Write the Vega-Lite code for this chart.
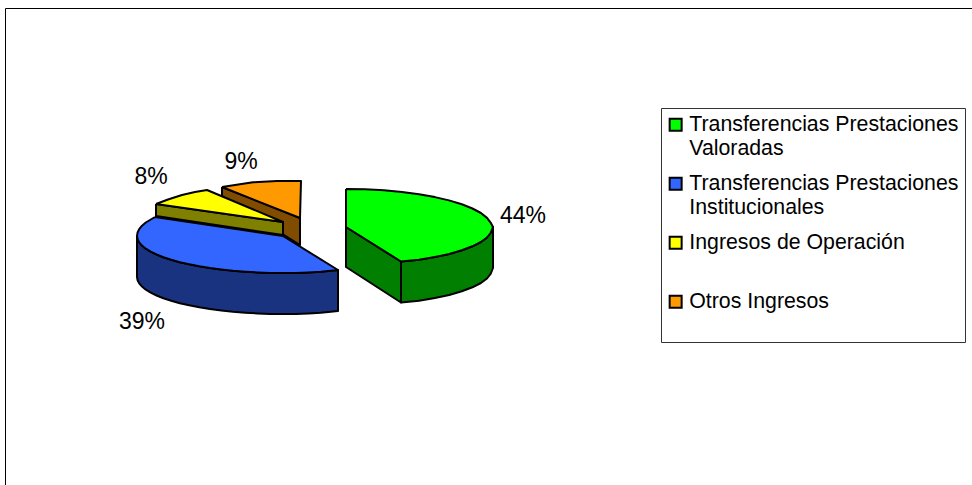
{
  "$schema": "https://vega.github.io/schema/vega-lite/v6.json",
  "width": 967,
  "height": 477,
  "padding": {"left": 5, "top": 8, "right": 0, "bottom": 0},
  "autosize": "none",
  "background": "white",
  "config": {"view": {"stroke": null}, "font": "Liberation Sans", "style": {"guide-label": {"lineHeight": 24}}},
  "layer": [
    {
      "data": {"name": "caras", "values": [
        {"serie":"Otros lateral","pieza":"o1","i":0,"x":217,"y":298},{"serie":"Otros lateral","pieza":"o1","i":1,"x":217,"y":289},{"serie":"Otros lateral","pieza":"o1","i":2,"x":295,"y":240},{"serie":"Otros lateral","pieza":"o1","i":3,"x":295,"y":267},{"serie":"Otros lateral","pieza":"o1","i":4,"x":217,"y":298},
        {"serie":"Otros Ingresos","pieza":"o2","i":0,"x":217,"y":298},{"serie":"Otros Ingresos","pieza":"o2","i":1,"x":248,"y":302.7},{"serie":"Otros Ingresos","pieza":"o2","i":2,"x":272,"y":304},{"serie":"Otros Ingresos","pieza":"o2","i":3,"x":296,"y":304},{"serie":"Otros Ingresos","pieza":"o2","i":4,"x":295,"y":267},{"serie":"Otros Ingresos","pieza":"o2","i":5,"x":217,"y":298},
        {"serie":"Operación lateral","pieza":"y1","i":0,"x":151,"y":281},{"serie":"Operación lateral","pieza":"y1","i":1,"x":151,"y":269},{"serie":"Operación lateral","pieza":"y1","i":2,"x":278,"y":250},{"serie":"Operación lateral","pieza":"y1","i":3,"x":278,"y":263},{"serie":"Operación lateral","pieza":"y1","i":4,"x":151,"y":281},
        {"serie":"Ingresos de Operación","pieza":"y2","i":0,"x":151,"y":281},{"serie":"Ingresos de Operación","pieza":"y2","i":1,"x":163,"y":285.5},{"serie":"Ingresos de Operación","pieza":"y2","i":2,"x":177,"y":290},{"serie":"Ingresos de Operación","pieza":"y2","i":3,"x":190,"y":293},{"serie":"Ingresos de Operación","pieza":"y2","i":4,"x":202,"y":295},{"serie":"Ingresos de Operación","pieza":"y2","i":5,"x":278,"y":263},{"serie":"Ingresos de Operación","pieza":"y2","i":6,"x":151,"y":281},
        {"serie":"Institucionales lateral","pieza":"b1","i":0,"x":132,"y":249},{"serie":"Institucionales lateral","pieza":"b1","i":0.5,"x":132.6,"y":245.8},{"serie":"Institucionales lateral","pieza":"b1","i":1,"x":134.2,"y":242.6},{"serie":"Institucionales lateral","pieza":"b1","i":1.5,"x":137,"y":239.4},{"serie":"Institucionales lateral","pieza":"b1","i":2,"x":140.8,"y":236.3},{"serie":"Institucionales lateral","pieza":"b1","i":2.5,"x":145.7,"y":233.4},{"serie":"Institucionales lateral","pieza":"b1","i":3,"x":151.6,"y":230.5},{"serie":"Institucionales lateral","pieza":"b1","i":3.5,"x":158.4,"y":227.8},{"serie":"Institucionales lateral","pieza":"b1","i":4,"x":166.2,"y":225.2},{"serie":"Institucionales lateral","pieza":"b1","i":4.5,"x":174.8,"y":222.8},{"serie":"Institucionales lateral","pieza":"b1","i":5,"x":184.2,"y":220.7},{"serie":"Institucionales lateral","pieza":"b1","i":5.5,"x":194.3,"y":218.7},{"serie":"Institucionales lateral","pieza":"b1","i":6,"x":205,"y":217},{"serie":"Institucionales lateral","pieza":"b1","i":6.5,"x":216.3,"y":215.5},{"serie":"Institucionales lateral","pieza":"b1","i":7,"x":228,"y":214.2},{"serie":"Institucionales lateral","pieza":"b1","i":7.5,"x":240.2,"y":213.3},{"serie":"Institucionales lateral","pieza":"b1","i":8,"x":252.6,"y":212.6},{"serie":"Institucionales lateral","pieza":"b1","i":8.5,"x":265.3,"y":212.1},{"serie":"Institucionales lateral","pieza":"b1","i":9,"x":278,"y":212},{"serie":"Institucionales lateral","pieza":"b1","i":9.5,"x":290.7,"y":212.1},{"serie":"Institucionales lateral","pieza":"b1","i":10,"x":303.4,"y":212.6},{"serie":"Institucionales lateral","pieza":"b1","i":10.5,"x":315.8,"y":213.3},{"serie":"Institucionales lateral","pieza":"b1","i":11,"x":333,"y":215},{"serie":"Institucionales lateral","pieza":"b1","i":12,"x":333,"y":174},{"serie":"Institucionales lateral","pieza":"b1","i":12.5,"x":315.8,"y":172.3},{"serie":"Institucionales lateral","pieza":"b1","i":13,"x":303.4,"y":171.6},{"serie":"Institucionales lateral","pieza":"b1","i":13.5,"x":290.7,"y":171.1},{"serie":"Institucionales lateral","pieza":"b1","i":14,"x":278,"y":171},{"serie":"Institucionales lateral","pieza":"b1","i":14.5,"x":265.3,"y":171.1},{"serie":"Institucionales lateral","pieza":"b1","i":15,"x":252.6,"y":171.6},{"serie":"Institucionales lateral","pieza":"b1","i":15.5,"x":240.2,"y":172.3},{"serie":"Institucionales lateral","pieza":"b1","i":16,"x":228,"y":173.2},{"serie":"Institucionales lateral","pieza":"b1","i":16.5,"x":216.3,"y":174.5},{"serie":"Institucionales lateral","pieza":"b1","i":17,"x":205,"y":176},{"serie":"Institucionales lateral","pieza":"b1","i":17.5,"x":194.3,"y":177.7},{"serie":"Institucionales lateral","pieza":"b1","i":18,"x":184.2,"y":179.7},{"serie":"Institucionales lateral","pieza":"b1","i":18.5,"x":174.8,"y":181.8},{"serie":"Institucionales lateral","pieza":"b1","i":19,"x":166.2,"y":184.2},{"serie":"Institucionales lateral","pieza":"b1","i":19.5,"x":158.4,"y":186.8},{"serie":"Institucionales lateral","pieza":"b1","i":20,"x":151.6,"y":189.5},{"serie":"Institucionales lateral","pieza":"b1","i":20.5,"x":145.7,"y":192.4},{"serie":"Institucionales lateral","pieza":"b1","i":21,"x":140.8,"y":195.3},{"serie":"Institucionales lateral","pieza":"b1","i":21.5,"x":137,"y":198.4},{"serie":"Institucionales lateral","pieza":"b1","i":22,"x":134.2,"y":201.6},{"serie":"Institucionales lateral","pieza":"b1","i":22.5,"x":132.6,"y":204.8},{"serie":"Institucionales lateral","pieza":"b1","i":23,"x":132,"y":208},{"serie":"Institucionales lateral","pieza":"b1","i":24,"x":132,"y":249},
        {"serie":"Transferencias Prestaciones Institucionales","pieza":"b2","i":0,"x":150,"y":268},{"serie":"Transferencias Prestaciones Institucionales","pieza":"b2","i":1,"x":140.8,"y":262.5},{"serie":"Transferencias Prestaciones Institucionales","pieza":"b2","i":1.5,"x":137,"y":259.3},{"serie":"Transferencias Prestaciones Institucionales","pieza":"b2","i":2,"x":134.2,"y":255.9},{"serie":"Transferencias Prestaciones Institucionales","pieza":"b2","i":2.5,"x":132.6,"y":252.5},{"serie":"Transferencias Prestaciones Institucionales","pieza":"b2","i":3,"x":132,"y":249},{"serie":"Transferencias Prestaciones Institucionales","pieza":"b2","i":3.5,"x":132.6,"y":245.8},{"serie":"Transferencias Prestaciones Institucionales","pieza":"b2","i":4,"x":134.2,"y":242.6},{"serie":"Transferencias Prestaciones Institucionales","pieza":"b2","i":4.5,"x":137,"y":239.4},{"serie":"Transferencias Prestaciones Institucionales","pieza":"b2","i":5,"x":140.8,"y":236.3},{"serie":"Transferencias Prestaciones Institucionales","pieza":"b2","i":5.5,"x":145.7,"y":233.4},{"serie":"Transferencias Prestaciones Institucionales","pieza":"b2","i":6,"x":151.6,"y":230.5},{"serie":"Transferencias Prestaciones Institucionales","pieza":"b2","i":6.5,"x":158.4,"y":227.8},{"serie":"Transferencias Prestaciones Institucionales","pieza":"b2","i":7,"x":166.2,"y":225.2},{"serie":"Transferencias Prestaciones Institucionales","pieza":"b2","i":7.5,"x":174.8,"y":222.8},{"serie":"Transferencias Prestaciones Institucionales","pieza":"b2","i":8,"x":184.2,"y":220.7},{"serie":"Transferencias Prestaciones Institucionales","pieza":"b2","i":8.5,"x":194.3,"y":218.7},{"serie":"Transferencias Prestaciones Institucionales","pieza":"b2","i":9,"x":205,"y":217},{"serie":"Transferencias Prestaciones Institucionales","pieza":"b2","i":9.5,"x":216.3,"y":215.5},{"serie":"Transferencias Prestaciones Institucionales","pieza":"b2","i":10,"x":228,"y":214.2},{"serie":"Transferencias Prestaciones Institucionales","pieza":"b2","i":10.5,"x":240.2,"y":213.3},{"serie":"Transferencias Prestaciones Institucionales","pieza":"b2","i":11,"x":252.6,"y":212.6},{"serie":"Transferencias Prestaciones Institucionales","pieza":"b2","i":11.5,"x":265.3,"y":212.1},{"serie":"Transferencias Prestaciones Institucionales","pieza":"b2","i":12,"x":278,"y":212},{"serie":"Transferencias Prestaciones Institucionales","pieza":"b2","i":12.5,"x":290.7,"y":212.1},{"serie":"Transferencias Prestaciones Institucionales","pieza":"b2","i":13,"x":303.4,"y":212.6},{"serie":"Transferencias Prestaciones Institucionales","pieza":"b2","i":13.5,"x":315.8,"y":213.3},{"serie":"Transferencias Prestaciones Institucionales","pieza":"b2","i":14,"x":333,"y":215},{"serie":"Transferencias Prestaciones Institucionales","pieza":"b2","i":15,"x":278,"y":249},{"serie":"Transferencias Prestaciones Institucionales","pieza":"b2","i":16,"x":150,"y":268},
        {"serie":"Valoradas lateral","pieza":"g1","i":0,"x":341,"y":258},{"serie":"Valoradas lateral","pieza":"g1","i":1,"x":396,"y":223.5},{"serie":"Valoradas lateral","pieza":"g1","i":2,"x":396,"y":182.5},{"serie":"Valoradas lateral","pieza":"g1","i":3,"x":341,"y":218},{"serie":"Valoradas lateral","pieza":"g1","i":4,"x":341,"y":258},
        {"serie":"Valoradas lateral","pieza":"g2","i":0,"x":396,"y":223.5},{"serie":"Valoradas lateral","pieza":"g2","i":1,"x":414,"y":225.2},{"serie":"Valoradas lateral","pieza":"g2","i":1.5,"x":429.9,"y":227.9},{"serie":"Valoradas lateral","pieza":"g2","i":2,"x":444.2,"y":231},{"serie":"Valoradas lateral","pieza":"g2","i":2.5,"x":456.8,"y":234.7},{"serie":"Valoradas lateral","pieza":"g2","i":3,"x":467.4,"y":238.7},{"serie":"Valoradas lateral","pieza":"g2","i":3.5,"x":475.9,"y":243},{"serie":"Valoradas lateral","pieza":"g2","i":4,"x":482,"y":247.5},{"serie":"Valoradas lateral","pieza":"g2","i":4.5,"x":485.6,"y":252},{"serie":"Valoradas lateral","pieza":"g2","i":5,"x":488,"y":258},{"serie":"Valoradas lateral","pieza":"g2","i":6,"x":488,"y":217},{"serie":"Valoradas lateral","pieza":"g2","i":6.5,"x":485.6,"y":211},{"serie":"Valoradas lateral","pieza":"g2","i":7,"x":482,"y":206.5},{"serie":"Valoradas lateral","pieza":"g2","i":7.5,"x":475.9,"y":202},{"serie":"Valoradas lateral","pieza":"g2","i":8,"x":467.4,"y":197.7},{"serie":"Valoradas lateral","pieza":"g2","i":8.5,"x":456.8,"y":193.7},{"serie":"Valoradas lateral","pieza":"g2","i":9,"x":444.2,"y":190},{"serie":"Valoradas lateral","pieza":"g2","i":9.5,"x":429.9,"y":186.9},{"serie":"Valoradas lateral","pieza":"g2","i":10,"x":414,"y":184.2},{"serie":"Valoradas lateral","pieza":"g2","i":11,"x":396,"y":182.5},{"serie":"Valoradas lateral","pieza":"g2","i":12,"x":396,"y":223.5},
        {"serie":"Transferencias Prestaciones Valoradas","pieza":"g3","i":0,"x":341,"y":296},{"serie":"Transferencias Prestaciones Valoradas","pieza":"g3","i":0.5,"x":360,"y":295.7},{"serie":"Transferencias Prestaciones Valoradas","pieza":"g3","i":1,"x":379,"y":294.7},{"serie":"Transferencias Prestaciones Valoradas","pieza":"g3","i":1.5,"x":396.9,"y":293},{"serie":"Transferencias Prestaciones Valoradas","pieza":"g3","i":2,"x":414,"y":290.8},{"serie":"Transferencias Prestaciones Valoradas","pieza":"g3","i":2.5,"x":429.9,"y":287.9},{"serie":"Transferencias Prestaciones Valoradas","pieza":"g3","i":3,"x":444,"y":284.6},{"serie":"Transferencias Prestaciones Valoradas","pieza":"g3","i":3.5,"x":456.8,"y":280.7},{"serie":"Transferencias Prestaciones Valoradas","pieza":"g3","i":4,"x":467.4,"y":276.5},{"serie":"Transferencias Prestaciones Valoradas","pieza":"g3","i":4.5,"x":475.9,"y":272},{"serie":"Transferencias Prestaciones Valoradas","pieza":"g3","i":5,"x":482,"y":267.1},{"serie":"Transferencias Prestaciones Valoradas","pieza":"g3","i":5.5,"x":485.6,"y":262.4},{"serie":"Transferencias Prestaciones Valoradas","pieza":"g3","i":6,"x":488,"y":258},{"serie":"Transferencias Prestaciones Valoradas","pieza":"g3","i":6.5,"x":485.6,"y":252},{"serie":"Transferencias Prestaciones Valoradas","pieza":"g3","i":7,"x":482,"y":247.5},{"serie":"Transferencias Prestaciones Valoradas","pieza":"g3","i":7.5,"x":475.9,"y":243},{"serie":"Transferencias Prestaciones Valoradas","pieza":"g3","i":8,"x":467.4,"y":238.7},{"serie":"Transferencias Prestaciones Valoradas","pieza":"g3","i":8.5,"x":456.8,"y":234.7},{"serie":"Transferencias Prestaciones Valoradas","pieza":"g3","i":9,"x":444.2,"y":231},{"serie":"Transferencias Prestaciones Valoradas","pieza":"g3","i":9.5,"x":429.9,"y":227.9},{"serie":"Transferencias Prestaciones Valoradas","pieza":"g3","i":10,"x":414,"y":225.2},{"serie":"Transferencias Prestaciones Valoradas","pieza":"g3","i":11,"x":396,"y":223.5},{"serie":"Transferencias Prestaciones Valoradas","pieza":"g3","i":12,"x":341,"y":258},{"serie":"Transferencias Prestaciones Valoradas","pieza":"g3","i":13,"x":341,"y":296}
      ]},
      "mark": {"type": "line", "stroke": "black", "strokeWidth": 2, "strokeJoin": "round", "interpolate": "linear", "clip": false},
      "encoding": {
        "x": {"field": "x", "type": "quantitative", "scale": {"domain": [0, 967]}, "axis": {"orient": "top", "title": null, "labels": false, "ticks": false, "grid": false, "domain": true, "domainColor": "black", "domainWidth": 1}},
        "y": {"field": "y", "type": "quantitative", "scale": {"domain": [0, 477]}, "axis": {"orient": "left", "title": null, "labels": false, "ticks": false, "grid": false, "domain": true, "domainColor": "black", "domainWidth": 1}},
        "order": {"field": "i", "type": "quantitative"},
        "detail": {"field": "pieza"},
        "fill": {
          "field": "serie",
          "type": "nominal",
          "scale": {
            "domain": ["Transferencias Prestaciones Valoradas", "Transferencias Prestaciones Institucionales", "Ingresos de Operación", "Otros Ingresos", "Valoradas lateral", "Institucionales lateral", "Operación lateral", "Otros lateral"],
            "range": ["#00FF00", "#3366FF", "#FFFF00", "#FF9900", "#007F00", "#1A3380", "#808000", "#804D00"]
          },
          "legend": {
            "values": ["Transferencias Prestaciones Valoradas", "Transferencias Prestaciones Institucionales", "Ingresos de Operación", "Otros Ingresos"],
            "title": null,
            "orient": "none",
            "legendX": 656,
            "legendY": 100,
            "padding": 6,
            "strokeColor": "#333333",
            "fillColor": "white",
            "symbolType": "square",
            "symbolSize": 144,
            "symbolOffset": -2,
            "symbolStrokeColor": "black",
            "symbolStrokeWidth": 2,
            "labelFont": "Liberation Sans",
            "labelFontSize": 21.3,
            "labelColor": "black",
            "labelLimit": 400,
            "labelOffset": 3,
            "rowPadding": 13,
            "gridAlign": "all",
            "labelExpr": "test(/Transferencias/, datum.label) ? [slice(datum.label, 0, 27), slice(datum.label, 28)] : test(/Otros/, datum.label) ? [datum.label, ' '] : datum.label"
          }
        }
      }
    },
    {
      "data": {"name": "rotulos", "values": [
        {"serie": "Transferencias Prestaciones Valoradas", "cuota": 0.44, "x": 518, "y": 269},
        {"serie": "Transferencias Prestaciones Institucionales", "cuota": 0.39, "x": 137, "y": 163},
        {"serie": "Ingresos de Operación", "cuota": 0.08, "x": 146, "y": 308},
        {"serie": "Otros Ingresos", "cuota": 0.09, "x": 236, "y": 323}
      ]},
      "mark": {"type": "text", "font": "Liberation Sans", "fontSize": 23, "color": "black", "align": "center", "baseline": "middle"},
      "encoding": {
        "x": {"field": "x", "type": "quantitative", "scale": {"domain": [0, 967]}},
        "y": {"field": "y", "type": "quantitative", "scale": {"domain": [0, 477]}},
        "text": {"field": "cuota", "type": "quantitative", "format": ".0%"}
      }
    }
  ]
}
